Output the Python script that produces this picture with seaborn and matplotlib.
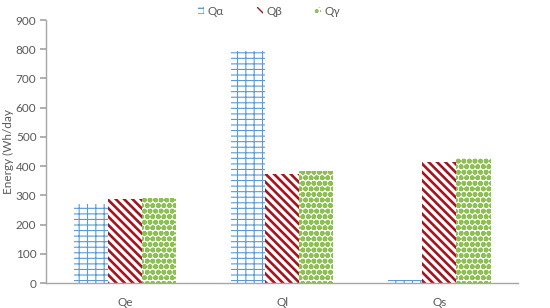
import numpy as np
import pandas as pd
import matplotlib
matplotlib.use("Agg")
import matplotlib.pyplot as plt
import seaborn as sns
from matplotlib.patches import Patch

categories = ["Qe", "Ql", "Qs"]
series = ["Qα", "Qβ", "Qγ"]
q_alpha = [270, 795, 12]
q_beta = [287, 374, 415]
q_gamma = [291, 384, 429]
y_ticks = [0, 100, 200, 300, 400, 500, 600, 700, 800, 900]

df = pd.DataFrame({
    "category": categories * 3,
    "series": [s for s in series for _ in categories],
    "value": q_alpha + q_beta + q_gamma,
})

sns.set_theme(style="white")
plt.rcParams["font.family"] = ["Lato", "DejaVu Sans"]
plt.rcParams["hatch.linewidth"] = 1.0

colors = ["#5b9bd5", "#a5141e", "#8cc152"]
hatches = ["---||", "\\\\\\\\", "ooo"]
hatch_lw = [0.8, 1.9, 1.8]

fig = plt.figure(figsize=(5.5, 3.08), dpi=100)
ax = fig.add_axes([0.084, 0.081, 0.858, 0.854])

sns.barplot(data=df, x="category", y="value", hue="series", order=categories,
            hue_order=series, palette=["white"] * 3, width=0.65, gap=0,
            legend=False, ax=ax, saturation=1)

for cont, col, h, lw in zip(ax.containers, colors, hatches, hatch_lw):
    for bar in cont:
        bar.set_facecolor("white")
        bar.set_edgecolor(col)
        bar.set_hatch(h)
        bar.set_linewidth(0)
        if hasattr(bar, "set_hatch_linewidth"):
            bar.set_hatch_linewidth(lw)
        else:
            bar._hatch_linewidth = lw

ax.set_ylim(0, 900)
ax.set_yticks(y_ticks)
ax.set_xlabel("")
ax.set_ylabel("Energy (Wh/day", fontsize=8.5, color="#595959", labelpad=1)
ax.tick_params(axis="y", left=True, length=4, color="#a6a6a6", labelsize=8.5,
               labelcolor="#595959", pad=3)
ax.tick_params(axis="x", bottom=False, labelsize=8.5, labelcolor="#595959", pad=4)
for side in ["top", "right"]:
    ax.spines[side].set_visible(False)
for side in ["left", "bottom"]:
    ax.spines[side].set_color("#a6a6a6")
    ax.spines[side].set_linewidth(1)

handles = []
for c, h, lw in zip(colors, hatches, hatch_lw):
    p = Patch(facecolor="white", edgecolor=c, hatch=h, linewidth=0)
    if hasattr(p, "set_hatch_linewidth"):
        p.set_hatch_linewidth(lw)
    handles.append(p)
fig.legend(handles, series, loc="upper center", bbox_to_anchor=(0.49, 1.015),
           ncol=3, frameon=False, fontsize=8.5, handlelength=0.5,
           handleheight=0.5, handletextpad=0.3, columnspacing=2.8,
           labelcolor="#595959")

fig.savefig("out.png", dpi=100)
